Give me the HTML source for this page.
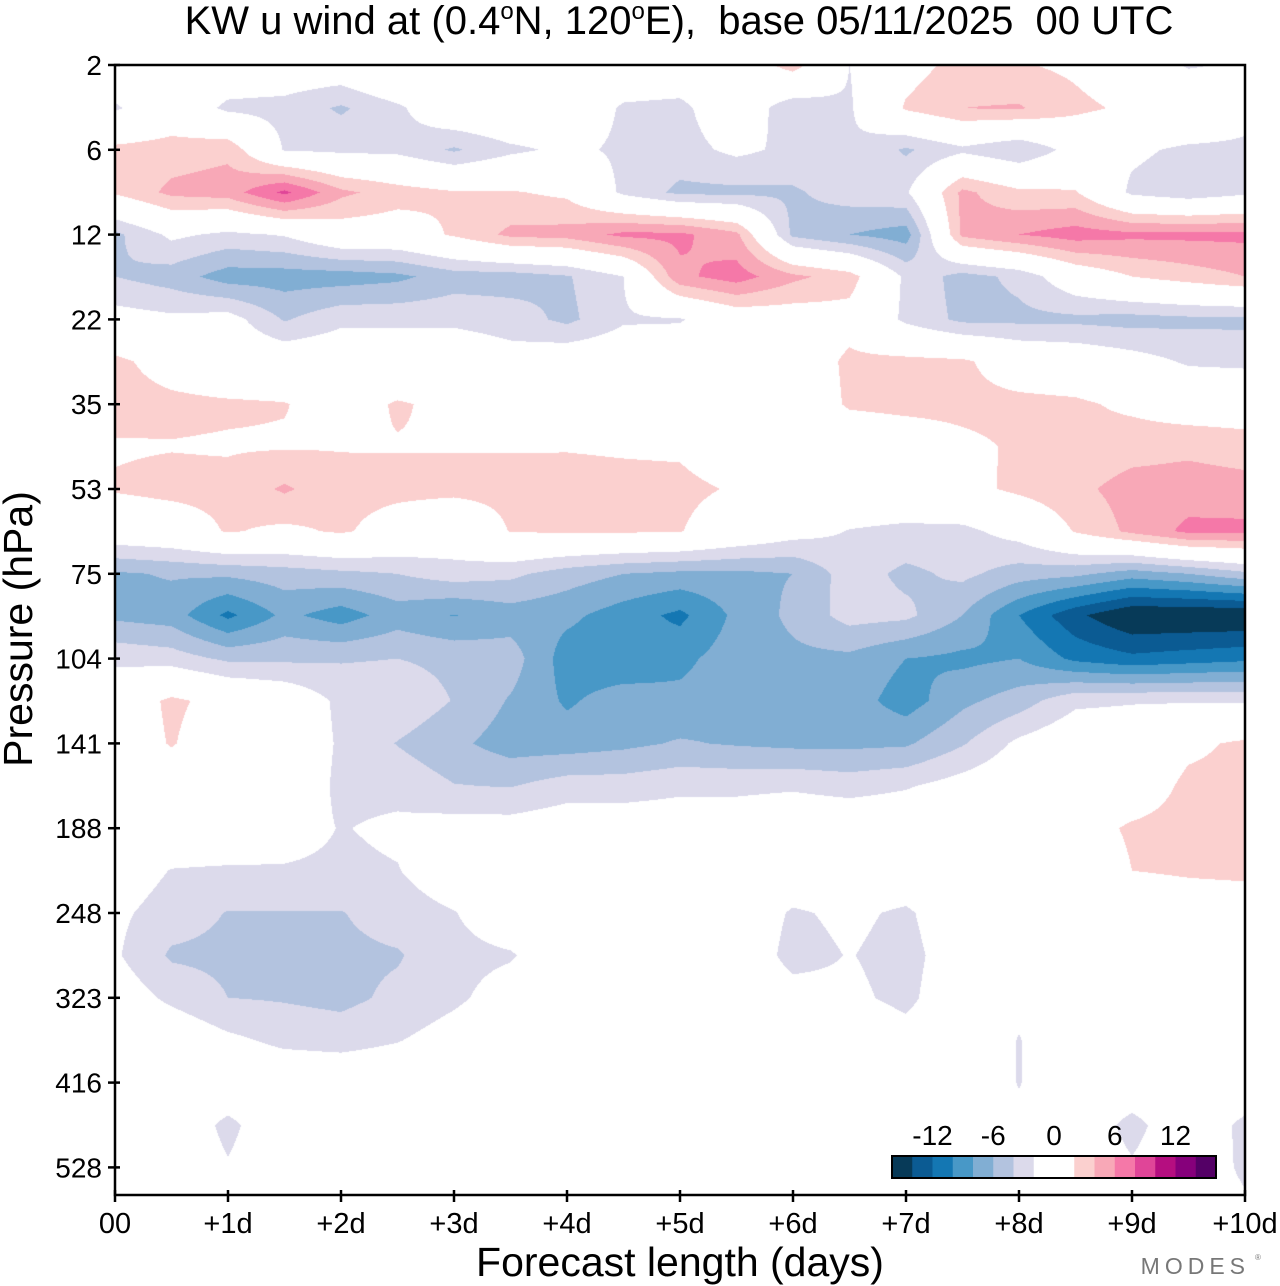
<!DOCTYPE html>
<html><head><meta charset="utf-8">
<style>
html,body{margin:0;padding:0;background:#fff;}
#wrap{position:relative;width:1280px;height:1286px;overflow:hidden;font-family:"Liberation Sans",Arial,sans-serif;}
#field{position:absolute;left:115px;top:65px;}
svg{position:absolute;left:0;top:0;}
</style></head>
<body>
<div id="wrap">
<canvas id="field" width="1130" height="1130"></canvas>
<svg id="ax" width="1280" height="1286"></svg>
</div>
<script>
// ---- data ----
const days = [0,0.5,1,1.5,2,2.5,3,3.5,4,4.5,5,5.5,6,6.5,7,7.5,8,8.5,9,9.5,10];
const rowPressures = [2,3.5,6,8.5,12,16.2,22,27.7,35,43,53,63,75,88,104,121,141,163,188,216,248,283,323,367,416,469,528,595];
const tickPressures = [2,6,12,22,35,53,75,104,141,188,248,323,416,528];
const xTickLabels = ["00","+1d","+2d","+3d","+4d","+5d","+6d","+7d","+8d","+9d","+10d"];
const levelBounds = [-16,-14,-12,-10,-8,-6,-4,-2,0,2,4,6,8,10,12,14,16];
const levelColors = ["#073a58","#0b5b93","#1477b3","#4898c7","#81aed3","#b3c3df","#dcdaeb","#ffffff","#ffffff","#fbd0cf","#f8a8b7","#f578a8","#e04598","#b50e80","#86007b","#540066"];
const legendLabels = ["-12","-6","0","6","12"];
const legendLabelValues = [-12,-6,0,6,12];
const u = [
[0,0,0,0,0,2.1,0,0,0,0,0,0,3,-2,1,2.8,2.2,1.5,0,-2.3,-1.5],
[-2.3,0,-2.5,-2.8,-4.3,-2.5,0.5,1,0,-2.3,-2.6,0,-3.5,-2.3,2.3,4,4.2,2.6,1.5,1.2,-1],
[2.6,3,3.5,-2.2,-2.5,-2.6,-4.3,-2.5,-1.5,-2.4,-2.8,-1.5,-2.5,-2.2,-4.3,-2.5,-4,-1,-1.5,-2.5,-2.5],
[2.3,4.5,5,8.5,4.5,3,2.2,2.2,1.5,-2.5,-4.5,-4.5,-4.3,-3,-2.3,4.5,2.5,2.2,-2.5,-3.5,-2.5],
[-4.5,-1.5,-2.5,-1.8,0.5,0.5,2.3,4.5,4.8,6.5,6.5,4.5,-4.5,-6,-7,4.5,6,7,6.5,6.5,6.5],
[-4,-5,-7,-7,-7,-6.5,-5,-5,-4.2,-2,5.5,7,4.5,3,-2.5,-4.8,-3.5,0,2,3,4],
[-1,-1.5,-1,-4.2,-2.5,-2.5,-2.5,-3,-4.5,-2.3,-2.2,0,0.5,1,-2.5,-4.5,-4.5,-4.5,-4.8,-4.5,-4.5],
[2.5,1,0,0,0,0,0,-1,0,0,0,0,0,2.5,2.6,2.4,0.5,0,-1,-2.3,-2.5],
[2.8,2.5,2.3,2.1,1,2.2,1.5,0,0,0,0,0,0,2.3,2.6,2.6,2.6,2.4,1.5,0.5,0.5],
[1.8,1.9,1.8,1.8,1.9,1.9,1.9,1.9,1.9,1.8,1.7,0.5,0,0,0.5,1.5,2.3,2.6,3.2,3.5,3],
[2.2,2.6,2.6,4.3,2.6,2.5,2.5,2.5,2.6,2.5,2.5,1.8,0.5,0,0,1.2,2.5,3.5,4.8,5,4.8],
[0,0.5,2.2,1.5,2.3,1,0,2.1,2.3,2.3,2.1,0.5,-1,-2.1,-2.5,-2.6,-1,2.2,4.5,6.5,6.5],
[-6.3,-5.8,-5.6,-5,-4.5,-4,-3,-3.5,-5,-6,-6.5,-6.5,-6,-3,-4.5,-3.5,-5,-5.5,-7,-6,-4.5],
[-6.5,-7,-10.5,-7.5,-9,-7,-8.1,-7,-7.5,-9,-10.5,-7.5,-5.5,-3.2,-3.5,-6,-10,-13.5,-16,-16,-16],
[-2.5,-3,-4.4,-4.4,-4.2,-4,-4.5,-5,-9,-9.5,-8.5,-7,-6.5,-6.5,-8,-8.5,-8,-10.5,-11.5,-11,-10.5],
[0,2.5,1,0,-2.5,-2.5,-4.1,-6.2,-8.3,-7,-7.5,-7,-7.5,-7,-9,-6.5,-5,-2.5,-2.2,-2.2,-2.3],
[0,2.2,0,0,-2.3,-4.1,-5.5,-7,-7,-6.5,-5.8,-6.2,-6.5,-6.5,-6.3,-4.2,-1.5,0,0,1.5,2.4],
[0,0,0,0,-2.5,-2.6,-3.9,-4.1,-3,-3,-2.5,-2.5,-2.3,-2.8,-2.2,-1,0,0,0.5,2.5,2.6],
[0,0,0,-1,-2.1,-1.6,-1,-1,-0.5,-0.5,-0.5,-0.5,0,0,0,0,0,1,2.3,2.8,2.6],
[-0.5,-2.1,-2.3,-2.2,-2.4,-2.1,-0.5,0,0,0,0,0,0,0,0,0,0,0,2,2.3,2.5],
[-1.5,-3,-4.1,-4.1,-4.1,-3,-2.1,-0.5,0,0,0,0,-2.3,-1.5,-2.4,0,0,0,0,0.5,0.5],
[-1.7,-4.3,-4.5,-4.5,-4.5,-4.2,-2.6,-2.2,-0.5,0,0,0,-2.8,-1.9,-2.8,-0.5,0,0,0,0,0],
[-0.5,-2.5,-4,-4.2,-4.6,-3.5,-2.4,-1,0,0,0,0,-1,-1.5,-2.6,0,-1.5,0,0,0,0],
[0,0,-1.5,-2.5,-2.8,-2.1,-1,0,0,0,0,0,0,0,-1,0,-2.1,0,0,0,0],
[0,0,0,0,0,0,0,0,0,0,0,0,0,0,0,0,-2.1,0,0,0,0],
[0,0,-2.6,0,0,0,0,0,0,0,0,0,0,0,0,0,-1.5,0,-2.8,0,-2.6],
[0,0,-1.8,0,0,0,0,0,0,0,0,0,0,0,0,0,0,0,-1.7,0,-2.5],
[0,0,0,0,0,0,0,0,0,0,0,0,0,0,0,0,0,0,0,0,-1.5]
];
</script>
<script>
// ---- axes ----
const X0=115, X1=1245, Y0=65, Y1=1195, TICKSTEP=84.8;
function xScale(d){return X0+(d/10)*(X1-X0);}
function yScale(p){
  const lp=Math.log(p);
  const t=tickPressures;
  let i=0;
  if(p<=t[0]) i=0; else if(p>=t[t.length-1]) i=t.length-2; else {while(i<t.length-2 && p>t[i+1]) i++;}
  const f=(lp-Math.log(t[i]))/(Math.log(t[i+1])-Math.log(t[i]));
  return Y0+(i+f)*TICKSTEP;
}
function hex(c){return [parseInt(c.substr(1,2),16),parseInt(c.substr(3,2),16),parseInt(c.substr(5,2),16)];}

// ---- field ----
(function(){
  const cv=document.getElementById('field');
  const ctx=cv.getContext('2d');
  const W=cv.width,H=cv.height;
  const img=ctx.createImageData(W,H);
  const rowY=rowPressures.map(yScale);
  const colX=days.map(xScale);
  const rgb=levelColors.map(hex);
  function idx(v){
    if(v<levelBounds[0]) return 0;
    for(let i=0;i<levelColors.length;i++){ if(v<levelBounds[i+1]) return i; }
    return levelColors.length-1;
  }
  let r=0;
  for(let py=0;py<H;py++){
    const y=Y0+py+0.5;
    while(r<rowY.length-2 && y>rowY[r+1]) r++;
    let fy=(y-rowY[r])/(rowY[r+1]-rowY[r]); fy=Math.max(0,Math.min(1,fy));
    let c=0;
    for(let px=0;px<W;px++){
      const x=X0+px+0.5;
      while(c<colX.length-2 && x>colX[c+1]) c++;
      let fx=(x-colX[c])/(colX[c+1]-colX[c]); fx=Math.max(0,Math.min(1,fx));
      const a=u[r][c],b=u[r][c+1],d=u[r+1][c],e=u[r+1][c+1];
      const v=(a*(1-fx)+b*fx)*(1-fy)+(d*(1-fx)+e*fx)*fy;
      const col=rgb[idx(v)];
      const o=(py*W+px)*4;
      img.data[o]=col[0];img.data[o+1]=col[1];img.data[o+2]=col[2];img.data[o+3]=255;
    }
  }
  ctx.putImageData(img,0,0);
})();

// ---- svg axes ----
const NS='http://www.w3.org/2000/svg';
const svg=document.getElementById('ax');
function mk(tag,attrs,parent){const el=document.createElementNS(NS,tag);for(const k in attrs)el.setAttribute(k,attrs[k]);(parent||svg).appendChild(el);return el;}

let el=mk('rect',{x:X0,y:Y0,width:X1-X0,height:Y1-Y0,fill:'none',stroke:'#000','stroke-width':2.5});



tickPressures.forEach(function(p){
  const y=yScale(p);
  const t=mk('line',{x1:X0-7,x2:X0+5,y1:y,y2:y,stroke:'#000','stroke-width':2.5});
  
  
  const lb=mk('text',{x:X0-13,y:y+10,'text-anchor':'end','font-size':28,fill:'#000'});
  lb.textContent=String(p);
  
  
});
xTickLabels.forEach(function(s,i){
  const x=xScale(i);
  const t=mk('line',{x1:x,x2:x,y1:Y1-5,y2:Y1+7,stroke:'#000','stroke-width':2.5});
  
  
  const lb=mk('text',{x:x,y:1233,'text-anchor':'middle','font-size':29,fill:'#000'});
  lb.textContent=s;
  
  
});

// title
const tt=mk('text',{x:679,y:34,'text-anchor':'middle','font-size':40,fill:'#000'});


tt.setAttribute('xml:space','preserve');
tt.style.whiteSpace='pre';
tt.innerHTML='KW u wind at (0.4<tspan dy="-15" font-size="24">o</tspan><tspan dy="15">N, 120</tspan><tspan dy="-15" font-size="24">o</tspan><tspan dy="15">E),  base 05/11/2025  00 UTC</tspan>';

const xt=mk('text',{x:680,y:1276,'text-anchor':'middle','font-size':41,fill:'#000'});
xt.textContent='Forecast length (days)';



const yt=mk('text',{x:0,y:0,'text-anchor':'middle','font-size':41,fill:'#000',transform:'translate(32,629) rotate(-90)'});
yt.textContent='Pressure (hPa)';



const wm=mk('text',{x:1250,y:1274,'text-anchor':'end','font-size':23,fill:'#777','letter-spacing':'5'});
wm.textContent='MODES';


const wr=mk('text',{x:1255,y:1260,'font-size':8,fill:'#777'});
wr.textContent='®';



// legend
const LX0=892, LX1=1216, LY=1156, LH=22;
const bw=(LX1-LX0)/levelColors.length;
function legX(v){return LX0+(v-levelBounds[0])/(levelBounds[levelBounds.length-1]-levelBounds[0])*(LX1-LX0);}
levelColors.forEach(function(col,i){
  const r=mk('rect',{x:LX0+i*bw,y:LY,width:bw+0.5,height:LH,fill:col});
  
  
});
el=mk('rect',{x:LX0,y:LY,width:LX1-LX0,height:LH,fill:'none',stroke:'#000','stroke-width':2});


legendLabels.forEach(function(s,i){
  const t=mk('text',{x:legX(legendLabelValues[i]),y:1145,'text-anchor':'middle','font-size':28,fill:'#000'});
  t.textContent=s;
  
  
});
</script>
</body></html>
